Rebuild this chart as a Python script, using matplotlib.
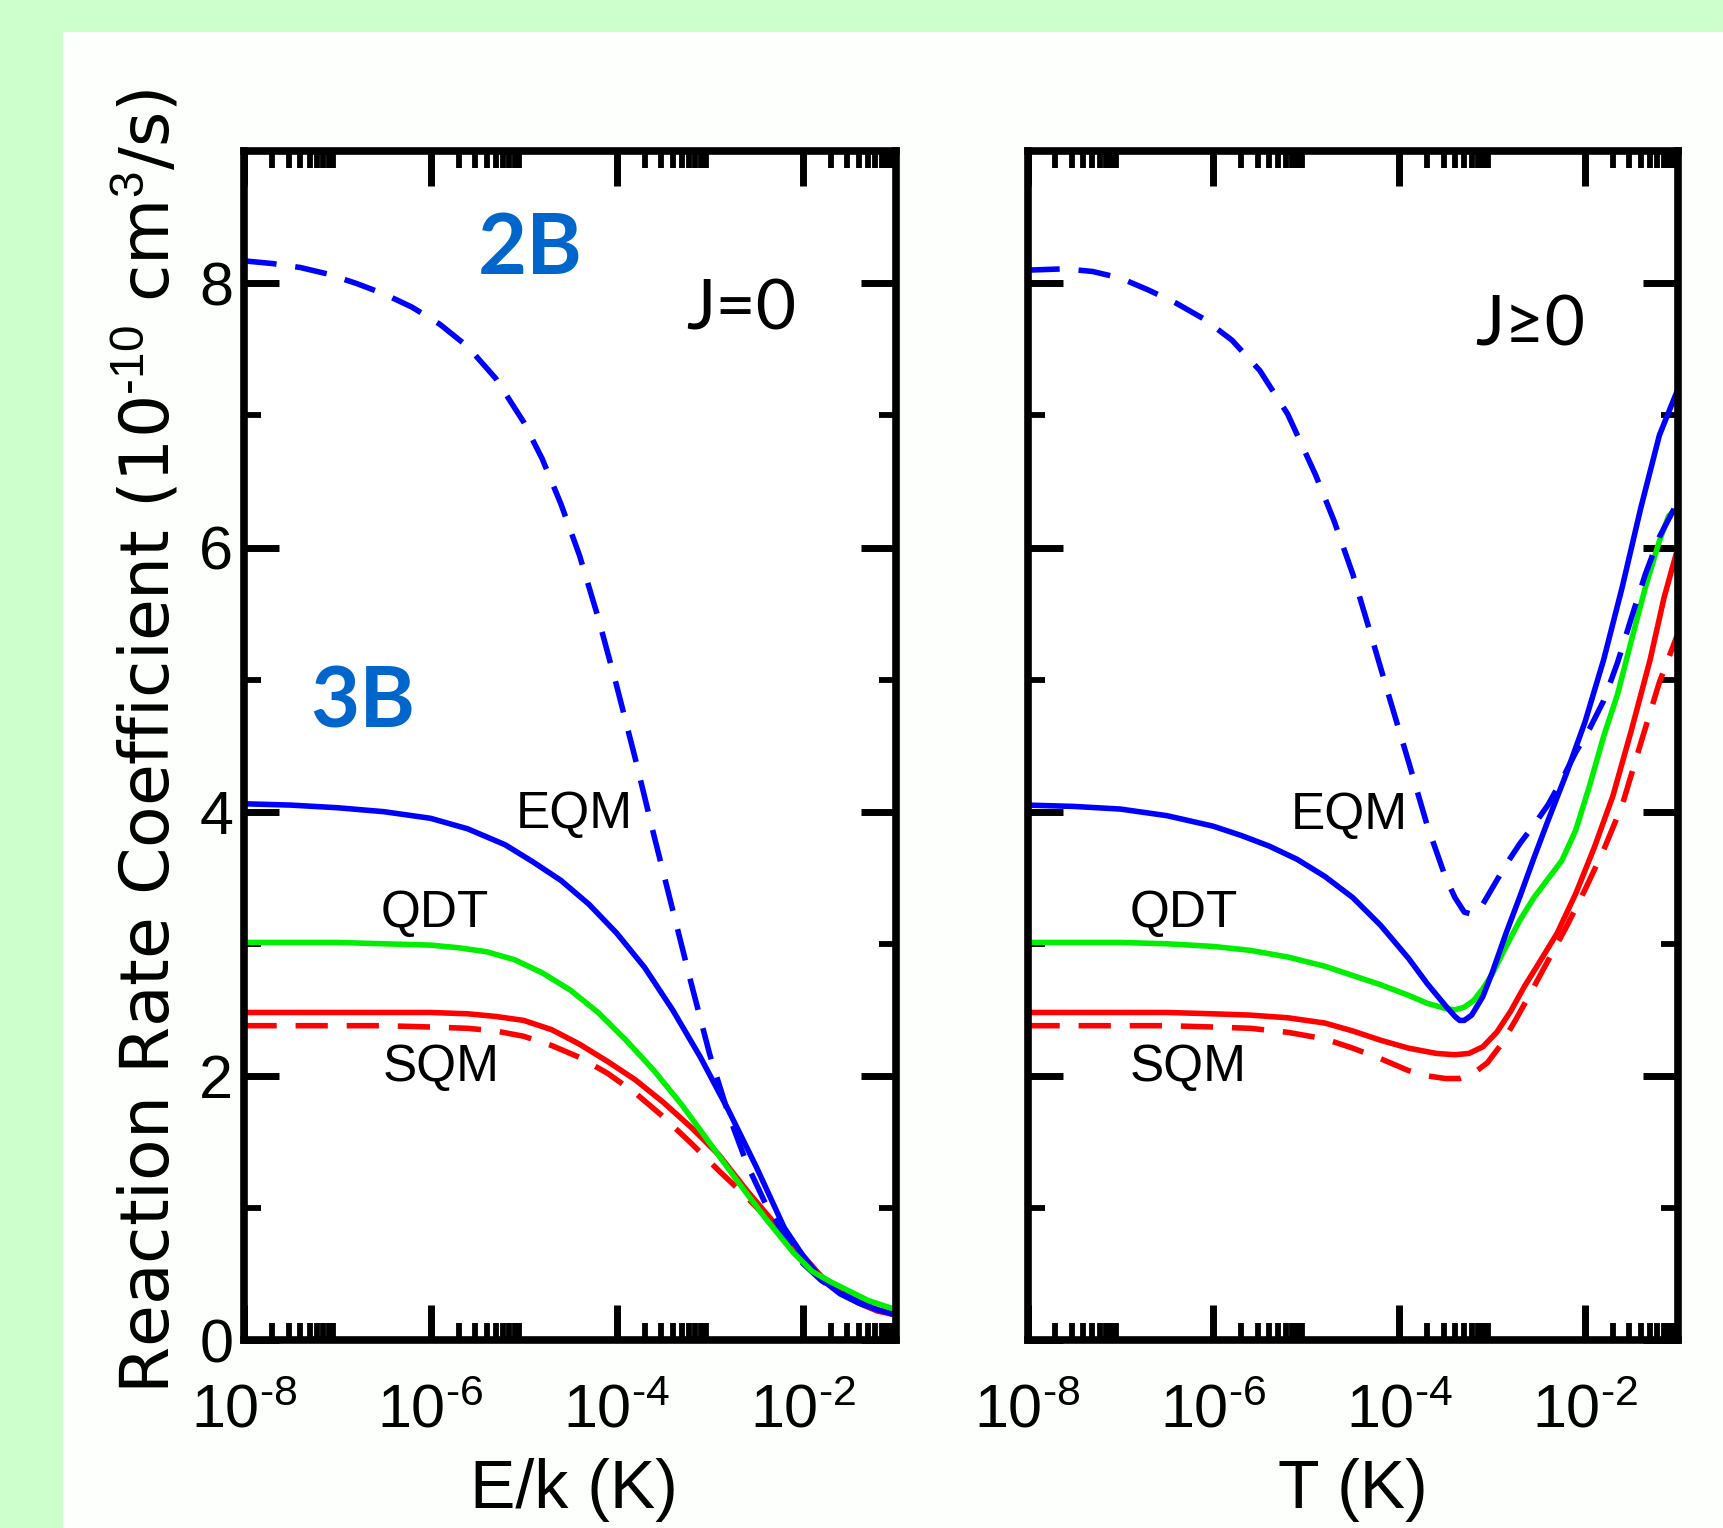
import numpy as np
import matplotlib
matplotlib.use('Agg')
import matplotlib.pyplot as plt
from matplotlib.patches import Rectangle
from matplotlib.ticker import FixedLocator, MultipleLocator, FuncFormatter, NullFormatter

plt.rcParams['font.family'] = ['Liberation Sans', 'DejaVu Sans']
plt.rcParams['mathtext.fontset'] = 'custom'
plt.rcParams['mathtext.rm'] = 'Liberation Sans'
plt.rcParams['mathtext.it'] = 'Liberation Sans:italic'
plt.rcParams['mathtext.bf'] = 'Liberation Sans:bold'
plt.rcParams['mathtext.default'] = 'rm'

BLUE = '#0000ff'
GREEN = '#00ee00'
RED = '#ff0000'
LABEL_BLUE = '#0066cc'

# ---- J=0 panel (x given as log10 of E/k in K) ----
j0_2b_x = [-8.0, -7.7, -7.4, -7.1, -6.8, -6.5, -6.2, -5.9, -5.6, -5.3, -5.0, -4.8, -4.6, -4.4,
           -4.2, -4.0, -3.8, -3.6, -3.4, -3.2, -3.0, -2.8, -2.6, -2.4, -2.2, -2.0, -1.8, -1.6,
           -1.4, -1.2, -1.0]
j0_2b_y = [8.17, 8.15, 8.12, 8.07, 8.00, 7.92, 7.82, 7.69, 7.52, 7.28, 6.95, 6.67, 6.33, 5.94,
           5.47, 4.95, 4.40, 3.82, 3.26, 2.70, 2.16, 1.71, 1.33, 1.03, 0.80, 0.58, 0.45, 0.36,
           0.29, 0.23, 0.19]

j0_eqm_x = [-8.0, -7.5, -7.0, -6.5, -6.0, -5.6, -5.2, -4.9, -4.6, -4.3, -4.0, -3.7, -3.4, -3.1,
            -2.8, -2.5, -2.2, -2.0, -1.8, -1.6, -1.4, -1.2, -1.0]
j0_eqm_y = [4.06, 4.05, 4.03, 4.00, 3.95, 3.87, 3.75, 3.62, 3.48, 3.30, 3.08, 2.82, 2.50, 2.14,
            1.74, 1.31, 0.85, 0.64, 0.46, 0.35, 0.28, 0.23, 0.19]

j0_qdt_x = [-8.0, -7.0, -6.5, -6.0, -5.7, -5.4, -5.1, -4.8, -4.5, -4.2, -3.9, -3.6, -3.3, -3.0,
            -2.7, -2.4, -2.1, -1.9, -1.7, -1.5, -1.3, -1.0]
j0_qdt_y = [3.01, 3.01, 3.00, 2.99, 2.97, 2.94, 2.88, 2.78, 2.65, 2.48, 2.27, 2.04, 1.78, 1.49,
            1.20, 0.92, 0.66, 0.52, 0.44, 0.37, 0.30, 0.23]

j0_sqm_x = [-8.0, -6.5, -6.0, -5.6, -5.3, -5.0, -4.7, -4.4, -4.1, -3.8, -3.5, -3.2, -2.9, -2.6,
            -2.3, -2.0, -1.8, -1.6, -1.4, -1.2, -1.0]
j0_sqm_y = [2.48, 2.48, 2.48, 2.47, 2.45, 2.42, 2.35, 2.24, 2.11, 1.97, 1.80, 1.61, 1.40, 1.13,
            0.88, 0.64, 0.48, 0.37, 0.28, 0.23, 0.19]

j0_sqm2_x = [-8.0, -6.5, -6.0, -5.6, -5.3, -5.0, -4.7, -4.4, -4.1, -3.8, -3.5, -3.2, -2.9, -2.6,
             -2.3, -2.0, -1.8, -1.6, -1.4, -1.2, -1.0]
j0_sqm2_y = [2.38, 2.38, 2.37, 2.36, 2.34, 2.30, 2.23, 2.14, 2.02, 1.87, 1.69, 1.49, 1.28, 1.08,
             0.86, 0.63, 0.48, 0.37, 0.28, 0.22, 0.19]

# ---- J>=0 panel (x given as log10 of T in K) ----
jall_2b_x = [-8.0, -7.6, -7.3, -7.0, -6.7, -6.4, -6.1, -5.8, -5.5, -5.2, -4.9, -4.7, -4.5, -4.3,
             -4.1, -3.9, -3.7, -3.5, -3.4, -3.3, -3.2, -3.1, -3.0, -2.85, -2.7, -2.55, -2.4,
             -2.25, -2.1, -1.95, -1.8, -1.65, -1.5, -1.35, -1.2, -1.0]
jall_2b_y = [8.10, 8.11, 8.09, 8.04, 7.95, 7.85, 7.73, 7.57, 7.34, 7.01, 6.55, 6.20, 5.80, 5.33,
             4.85, 4.38, 3.90, 3.50, 3.35, 3.24, 3.22, 3.30, 3.42, 3.60, 3.76, 3.90, 4.05,
             4.24, 4.45, 4.63, 4.84, 5.13, 5.47, 5.80, 6.08, 6.35]

jall_eqm_x = [-8.0, -7.5, -7.0, -6.5, -6.0, -5.7, -5.4, -5.1, -4.8, -4.5, -4.2, -3.9, -3.7, -3.5,
              -3.4, -3.35, -3.3, -3.22, -3.1, -3.0, -2.85, -2.7, -2.55, -2.4, -2.2, -2.0, -1.8,
              -1.6, -1.4, -1.2, -1.0]
jall_eqm_y = [4.05, 4.04, 4.02, 3.97, 3.89, 3.82, 3.74, 3.64, 3.51, 3.35, 3.14, 2.89, 2.70, 2.53,
              2.45, 2.42, 2.42, 2.46, 2.60, 2.78, 3.08, 3.36, 3.65, 3.93, 4.29, 4.68, 5.15,
              5.70, 6.30, 6.85, 7.20]

jall_qdt_x = [-8.0, -7.0, -6.5, -6.0, -5.6, -5.2, -4.8, -4.5, -4.2, -3.9, -3.7, -3.5, -3.4, -3.3,
              -3.2, -3.1, -3.0, -2.85, -2.7, -2.55, -2.4, -2.25, -2.1, -1.95, -1.8, -1.65, -1.5,
              -1.35, -1.2, -1.1, -1.0]
jall_qdt_y = [3.01, 3.01, 3.00, 2.98, 2.95, 2.90, 2.83, 2.76, 2.69, 2.61, 2.55, 2.51, 2.50, 2.52,
              2.57, 2.66, 2.77, 2.98, 3.18, 3.35, 3.49, 3.63, 3.86, 4.20, 4.57, 4.89, 5.30,
              5.70, 6.05, 6.24, 6.30]

jall_sqm_x = [-8.0, -7.0, -6.5, -6.0, -5.6, -5.2, -4.8, -4.5, -4.2, -3.9, -3.6, -3.4, -3.25, -3.1,
              -2.95, -2.8, -2.65, -2.5, -2.3, -2.1, -1.9, -1.7, -1.5, -1.3, -1.15, -1.0]
jall_sqm_y = [2.48, 2.48, 2.48, 2.47, 2.46, 2.44, 2.40, 2.34, 2.27, 2.21, 2.17, 2.16, 2.17, 2.22,
              2.33, 2.49, 2.68, 2.85, 3.08, 3.38, 3.73, 4.12, 4.62, 5.15, 5.62, 6.00]

jall_sqm2_x = [-8.0, -7.0, -6.5, -6.0, -5.6, -5.2, -4.8, -4.5, -4.2, -3.9, -3.7, -3.5, -3.35, -3.2,
               -3.05, -2.9, -2.75, -2.6, -2.4, -2.2, -2.0, -1.8, -1.6, -1.4, -1.2, -1.0]
jall_sqm2_y = [2.38, 2.38, 2.38, 2.37, 2.36, 2.33, 2.28, 2.21, 2.13, 2.04, 2.00, 1.98, 1.98, 2.02,
               2.10, 2.24, 2.42, 2.61, 2.87, 3.13, 3.41, 3.71, 4.05, 4.52, 4.98, 5.35]

XMIN, XMAX = 1e-8, 1e-1
MAJOR_X = [1e-8, 1e-6, 1e-4, 1e-2]
MINOR_X = [m * t for t in MAJOR_X for m in range(2, 10)]

LW = 4.0
DASH = (5.8, 3.4)


def lx(vals):
    return 10.0 ** np.asarray(vals)


def pow_label(v, pos):
    e = int(round(np.log10(v)))
    sign = '\u2010' if e < 0 else ''
    return r'$10^{%s%d}$' % (sign, abs(e))


def style_axes(ax, show_ylabels):
    ax.set_xscale('log')
    ax.set_xlim(XMIN, XMAX)
    ax.set_ylim(0, 9)
    ax.xaxis.set_major_locator(FixedLocator(MAJOR_X))
    ax.xaxis.set_minor_locator(FixedLocator(MINOR_X))
    ax.xaxis.set_major_formatter(FuncFormatter(pow_label))
    ax.xaxis.set_minor_formatter(NullFormatter())
    ax.yaxis.set_major_locator(MultipleLocator(2))
    ax.yaxis.set_minor_locator(MultipleLocator(1))
    ax.tick_params(which='both', direction='in', top=True, right=True)
    ax.tick_params(which='major', length=25, width=5)
    ax.tick_params(which='minor', length=12.5, width=4.2)
    ax.tick_params(axis='x', which='major', labelsize=44, pad=31)
    ax.tick_params(axis='y', which='major', labelsize=44, pad=8, labelleft=show_ylabels)
    for s in ax.spines.values():
        s.set_linewidth(5.5)
    ax.set_facecolor('white')


fig = plt.figure(figsize=(17.24, 15.28), dpi=100)
fig.patch.set_facecolor('#ccffcc')
fig.add_artist(Rectangle((0.0364, 0.0), 1.0 - 0.0364, 0.9793, transform=fig.transFigure,
                         facecolor='#fdfffd', edgecolor='none', zorder=-10))

ax1 = fig.add_axes([0.1418, 0.1230, 0.3779, 0.7780])
ax2 = fig.add_axes([0.5960, 0.1230, 0.3773, 0.7780])

# left panel: J=0
ax1.plot(lx(j0_sqm2_x), j0_sqm2_y, color=RED, lw=LW, dashes=DASH)
ax1.plot(lx(j0_sqm_x), j0_sqm_y, color=RED, lw=LW)
ax1.plot(lx(j0_eqm_x), j0_eqm_y, color=BLUE, lw=LW)
ax1.plot(lx(j0_2b_x), j0_2b_y, color=BLUE, lw=LW, dashes=DASH)
ax1.plot(lx(j0_qdt_x), j0_qdt_y, color=GREEN, lw=LW)

# right panel: J>=0
ax2.plot(lx(jall_sqm2_x), jall_sqm2_y, color=RED, lw=LW, dashes=DASH)
ax2.plot(lx(jall_sqm_x), jall_sqm_y, color=RED, lw=LW)
ax2.plot(lx(jall_qdt_x), jall_qdt_y, color=GREEN, lw=LW)
ax2.plot(lx(jall_eqm_x), jall_eqm_y, color=BLUE, lw=LW)
ax2.plot(lx(jall_2b_x), jall_2b_y, color=BLUE, lw=LW, dashes=DASH)

style_axes(ax1, True)
style_axes(ax2, False)

lab_kw = dict(fontsize=37, ha='center', va='baseline')
ax1.text(10 ** -4.46, 3.88, 'EQM', **lab_kw)
ax1.text(10 ** -5.96, 3.13, 'QDT', **lab_kw)
ax1.text(10 ** -5.89, 1.96, 'SQM', **lab_kw)
ax2.text(10 ** -4.54, 3.87, 'EQM', **lab_kw)
ax2.text(10 ** -6.32, 3.13, 'QDT', **lab_kw)
ax2.text(10 ** -6.27, 1.96, 'SQM', **lab_kw)

cal = ['Lato', 'DejaVu Sans']
ax1.text(10 ** -2.66, 7.65, 'J=0', fontsize=50, family=cal, ha='center', va='baseline')
ax2.text(10 ** -2.59, 7.53, 'J\u22650', fontsize=50, family=cal, ha='center', va='baseline')
ax1.text(10 ** -4.925, 8.07, '2B', fontsize=61, family=cal, fontweight='bold',
         color=LABEL_BLUE, ha='center', va='baseline')
ax1.text(10 ** -6.73, 4.64, '3B', fontsize=61, family=cal, fontweight='bold',
         color=LABEL_BLUE, ha='center', va='baseline')

fig.text(0.086, 0.515, 'Reaction Rate Coefficient (10$^{\u201010}$ cm$^{3}$/s)',
         fontsize=49, family=['DejaVu Sans'], rotation=90, ha='center', va='center')
fig.text(0.333, 0.0131, 'E/k (K)', fontsize=49, ha='center', va='baseline')
fig.text(0.7847, 0.0131, 'T (K)', fontsize=49, ha='center', va='baseline')

fig.savefig('out.png', dpi=100, facecolor=fig.get_facecolor())
